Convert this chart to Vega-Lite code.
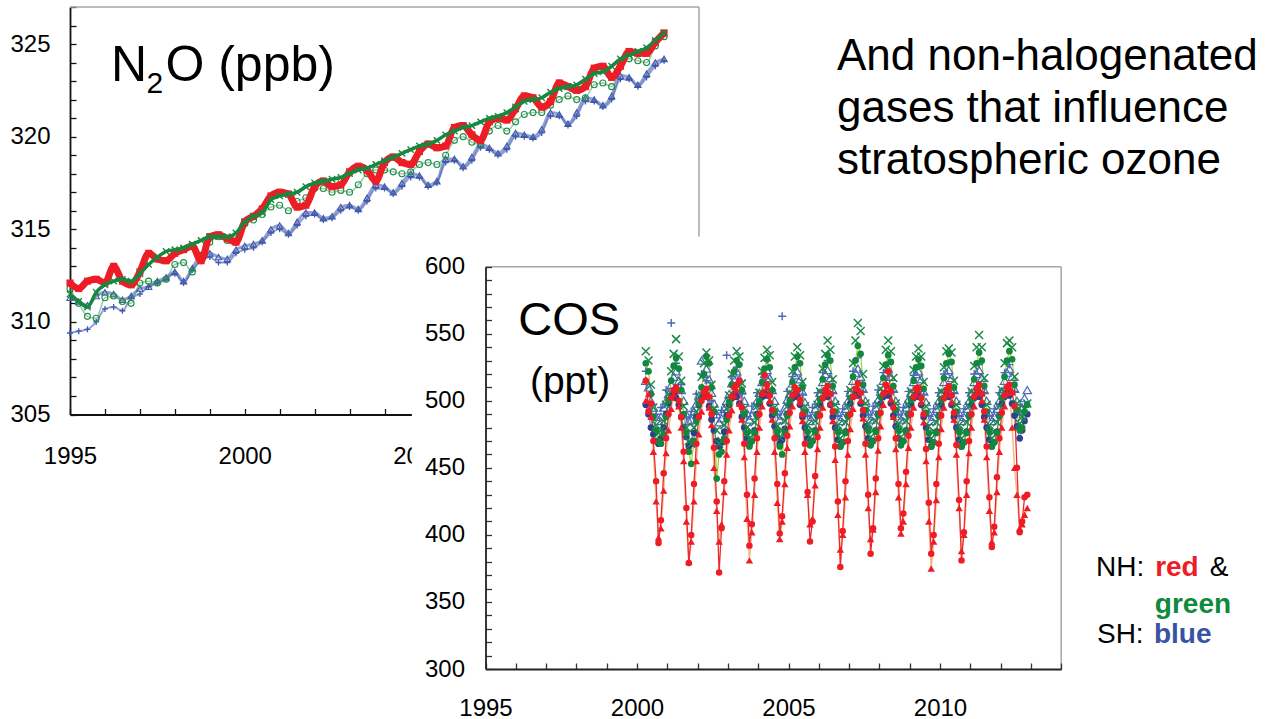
{
"$schema":"https://vega.github.io/schema/vega-lite/v6.json",
"width":1270,"height":719,"autosize":"none","padding":0,"background":"white",
"config":{"font":"Liberation Sans","view":{"stroke":null}},
"datasets":{
"n2o":[
{"t":1995.00,"r":312.1,"x":311.5,"o":311.8,"b":311.3,"p":309.4},
{"t":1995.25,"r":311.8,"x":311.1,"o":311.0,"b":311.1,"p":309.5},
{"t":1995.50,"r":312.2,"x":310.8,"o":310.3,"b":310.9,"p":309.6},
{"t":1995.75,"r":312.3,"x":311.6,"o":310.2,"b":311.4,"p":310.0},
{"t":1996.00,"r":312.1,"x":312.0,"o":311.3,"b":311.6,"p":310.7},
{"t":1996.25,"r":313.0,"x":312.2,"o":311.4,"b":311.5,"p":310.8},
{"t":1996.50,"r":312.2,"x":312.3,"o":311.1,"b":311.2,"p":310.6},
{"t":1996.75,"r":312.0,"x":312.2,"o":311.0,"b":311.4,"p":311.3},
{"t":1997.00,"r":312.7,"x":312.6,"o":312.1,"b":311.8,"p":311.5},
{"t":1997.25,"r":313.7,"x":313.1,"o":312.2,"b":311.9,"p":311.9},
{"t":1997.50,"r":313.4,"x":313.5,"o":312.1,"b":312.2,"p":312.1},
{"t":1997.75,"r":313.3,"x":313.8,"o":312.3,"b":312.4,"p":312.3},
{"t":1998.00,"r":313.7,"x":313.9,"o":313.1,"b":312.7,"p":312.6},
{"t":1998.25,"r":313.9,"x":314.0,"o":313.2,"b":312.2,"p":312.1},
{"t":1998.50,"r":314.1,"x":314.2,"o":312.7,"b":312.9,"p":312.8},
{"t":1998.75,"r":313.3,"x":314.4,"o":313.6,"b":313.6,"p":313.3},
{"t":1999.00,"r":314.6,"x":314.6,"o":314.3,"b":313.7,"p":313.5},
{"t":1999.25,"r":314.7,"x":314.6,"o":314.6,"b":313.5,"p":313.2},
{"t":1999.50,"r":314.5,"x":314.6,"o":314.4,"b":313.4,"p":313.2},
{"t":1999.75,"r":314.3,"x":314.8,"o":314.6,"b":313.9,"p":313.7},
{"t":2000.00,"r":315.4,"x":315.4,"o":315.3,"b":314.1,"p":313.9},
{"t":2000.25,"r":315.7,"x":315.7,"o":315.5,"b":314.2,"p":314.0},
{"t":2000.50,"r":316.1,"x":315.9,"o":315.8,"b":314.4,"p":314.3},
{"t":2000.75,"r":316.8,"x":316.6,"o":316.2,"b":315.0,"p":314.8},
{"t":2001.00,"r":317.0,"x":316.8,"o":316.3,"b":315.2,"p":315.0},
{"t":2001.25,"r":316.9,"x":316.9,"o":316.0,"b":314.8,"p":314.7},
{"t":2001.50,"r":316.2,"x":317.0,"o":316.5,"b":315.4,"p":315.2},
{"t":2001.75,"r":316.3,"x":317.3,"o":316.7,"b":315.9,"p":315.7},
{"t":2002.00,"r":317.3,"x":317.5,"o":317.2,"b":315.9,"p":315.8},
{"t":2002.25,"r":317.6,"x":317.6,"o":317.2,"b":315.6,"p":315.5},
{"t":2002.50,"r":317.3,"x":317.7,"o":317.0,"b":315.7,"p":315.6},
{"t":2002.75,"r":317.4,"x":317.8,"o":317.1,"b":316.2,"p":316.0},
{"t":2003.00,"r":318.1,"x":318.0,"o":317.0,"b":316.3,"p":316.2},
{"t":2003.25,"r":318.4,"x":318.2,"o":317.4,"b":316.1,"p":316.0},
{"t":2003.50,"r":318.2,"x":318.3,"o":318.0,"b":316.7,"p":316.5},
{"t":2003.75,"r":317.6,"x":318.5,"o":318.2,"b":317.4,"p":317.2},
{"t":2004.00,"r":318.6,"x":318.7,"o":318.2,"b":317.3,"p":317.2},
{"t":2004.25,"r":318.9,"x":318.9,"o":318.1,"b":317.0,"p":316.9},
{"t":2004.50,"r":318.6,"x":319.1,"o":318.0,"b":317.5,"p":317.3},
{"t":2004.75,"r":318.5,"x":319.3,"o":318.1,"b":318.0,"p":317.8},
{"t":2005.00,"r":319.2,"x":319.5,"o":318.5,"b":317.9,"p":317.8},
{"t":2005.25,"r":319.6,"x":319.6,"o":318.6,"b":317.4,"p":317.3},
{"t":2005.50,"r":319.4,"x":319.8,"o":318.5,"b":317.6,"p":317.5},
{"t":2005.75,"r":319.5,"x":320.1,"o":319.0,"b":318.8,"p":318.6},
{"t":2006.00,"r":320.5,"x":320.3,"o":319.8,"b":318.8,"p":318.7},
{"t":2006.25,"r":320.6,"x":320.5,"o":320.0,"b":318.4,"p":318.3},
{"t":2006.50,"r":320.1,"x":320.6,"o":319.7,"b":318.9,"p":318.7},
{"t":2006.75,"r":319.8,"x":320.8,"o":319.6,"b":319.6,"p":319.4},
{"t":2007.00,"r":320.8,"x":321.0,"o":320.3,"b":319.4,"p":319.3},
{"t":2007.25,"r":321.0,"x":321.1,"o":320.6,"b":319.1,"p":319.0},
{"t":2007.50,"r":320.9,"x":321.3,"o":320.3,"b":319.5,"p":319.3},
{"t":2007.75,"r":321.5,"x":321.6,"o":320.8,"b":320.2,"p":320.0},
{"t":2008.00,"r":322.2,"x":321.9,"o":321.2,"b":320.1,"p":320.0},
{"t":2008.25,"r":322.1,"x":322.0,"o":321.3,"b":320.0,"p":319.9},
{"t":2008.50,"r":321.6,"x":322.1,"o":321.3,"b":320.4,"p":320.2},
{"t":2008.75,"r":321.9,"x":322.4,"o":321.7,"b":321.3,"p":321.1},
{"t":2009.00,"r":322.9,"x":322.6,"o":322.0,"b":321.2,"p":321.1},
{"t":2009.25,"r":322.7,"x":322.7,"o":322.2,"b":320.7,"p":320.6},
{"t":2009.50,"r":322.5,"x":322.8,"o":322.0,"b":321.3,"p":321.1},
{"t":2009.75,"r":322.7,"x":323.1,"o":322.1,"b":322.1,"p":321.9},
{"t":2010.00,"r":323.7,"x":323.4,"o":322.8,"b":322.0,"p":321.9},
{"t":2010.25,"r":323.8,"x":323.5,"o":322.9,"b":321.7,"p":321.6},
{"t":2010.50,"r":323.2,"x":323.8,"o":322.7,"b":322.2,"p":322.0},
{"t":2010.75,"r":323.8,"x":324.2,"o":323.8,"b":323.3,"p":323.1},
{"t":2011.00,"r":324.6,"x":324.4,"o":324.2,"b":323.2,"p":323.1},
{"t":2011.25,"r":324.5,"x":324.6,"o":324.1,"b":322.8,"p":322.7},
{"t":2011.50,"r":324.5,"x":324.8,"o":324.0,"b":323.4,"p":323.2},
{"t":2011.75,"r":325.1,"x":325.2,"o":324.9,"b":324.0,"p":323.8},
{"t":2012.00,"r":325.6,"x":325.6,"o":325.4,"b":324.2,"p":324.1}
],
"cos":[
{"t":2000.29,"a":515,"b":500,"c":528,"d":537,"e":497,"f":515,"g":522},
{"t":2000.38,"a":492,"b":505,"c":522,"d":530,"e":490,"f":510},
{"t":2000.46,"a":498,"b":488,"c":505,"d":512,"e":480,"f":500,"g":505},
{"t":2000.54,"a":470,"b":462,"c":488,"d":495,"e":475,"f":495},
{"t":2000.63,"a":440,"b":425,"c":478,"d":482,"e":470,"f":488,"g":490},
{"t":2000.71,"a":394,"b":398,"c":470,"d":476,"e":468,"f":485},
{"t":2000.79,"a":411,"b":405,"c":468,"d":478,"e":472,"f":488,"g":495},
{"t":2000.88,"a":446,"b":433,"c":475,"d":485,"e":480,"f":495},
{"t":2000.96,"a":472,"b":461,"c":488,"d":497,"e":490,"f":500,"g":508},
{"t":2001.04,"a":490,"b":478,"c":500,"d":505,"e":498,"f":505},
{"t":2001.13,"a":502,"b":494,"c":515,"d":522,"e":503,"f":512,"g":558},
{"t":2001.21,"a":508,"b":505,"c":526,"d":535,"e":505,"f":518},
{"t":2001.29,"a":510,"b":508,"c":532,"d":546,"e":502,"f":522,"g":528},
{"t":2001.38,"a":500,"b":496,"c":524,"d":533,"e":497,"f":515},
{"t":2001.46,"a":488,"b":480,"c":508,"d":515,"e":488,"f":508,"g":512},
{"t":2001.54,"a":462,"b":455,"c":490,"d":496,"e":480,"f":500},
{"t":2001.63,"a":420,"b":410,"c":476,"d":480,"e":473,"f":490,"g":488},
{"t":2001.71,"a":379,"b":380,"c":462,"d":470,"e":466,"f":485},
{"t":2001.79,"a":400,"b":395,"c":453,"d":468,"e":468,"f":486,"g":492},
{"t":2001.88,"a":438,"b":425,"c":470,"d":480,"e":476,"f":492},
{"t":2001.96,"a":468,"b":455,"c":485,"d":492,"e":488,"f":498,"g":505},
{"t":2002.04,"a":488,"b":475,"c":498,"d":503,"e":497,"f":504},
{"t":2002.13,"a":500,"b":492,"c":510,"d":518,"e":502,"f":530,"g":520},
{"t":2002.21,"a":506,"b":503,"c":520,"d":528,"e":506,"f":520},
{"t":2002.29,"a":509,"b":507,"c":533,"d":536,"e":503,"f":524,"g":515},
{"t":2002.38,"a":503,"b":495,"c":528,"d":530,"e":496,"f":516},
{"t":2002.46,"a":490,"b":482,"c":510,"d":512,"e":486,"f":506,"g":500},
{"t":2002.54,"a":465,"b":450,"c":492,"d":494,"e":478,"f":498},
{"t":2002.63,"a":425,"b":418,"c":442,"d":478,"e":470,"f":490,"g":490},
{"t":2002.71,"a":372,"b":395,"c":460,"d":468,"e":466,"f":484},
{"t":2002.79,"a":405,"b":408,"c":462,"d":470,"e":469,"f":487,"g":493},
{"t":2002.88,"a":440,"b":432,"c":472,"d":482,"e":477,"f":494},
{"t":2002.96,"a":470,"b":460,"c":486,"d":494,"e":489,"f":500,"g":534},
{"t":2003.04,"a":489,"b":478,"c":499,"d":504,"e":497,"f":505},
{"t":2003.13,"a":503,"b":493,"c":512,"d":520,"e":502,"f":513,"g":518},
{"t":2003.21,"a":510,"b":504,"c":522,"d":530,"e":505,"f":519},
{"t":2003.29,"a":512,"b":508,"c":530,"d":537,"e":503,"f":522,"g":525},
{"t":2003.38,"a":515,"b":498,"c":527,"d":533,"e":498,"f":516},
{"t":2003.46,"a":495,"b":486,"c":508,"d":513,"e":488,"f":508,"g":505},
{"t":2003.54,"a":468,"b":458,"c":490,"d":494,"e":480,"f":500},
{"t":2003.63,"a":430,"b":412,"c":476,"d":480,"e":472,"f":491,"g":488},
{"t":2003.71,"a":392,"b":381,"c":466,"d":472,"e":467,"f":486},
{"t":2003.79,"a":408,"b":402,"c":470,"d":477,"e":470,"f":489,"g":496},
{"t":2003.88,"a":442,"b":430,"c":476,"d":484,"e":478,"f":494},
{"t":2003.96,"a":472,"b":462,"c":489,"d":496,"e":490,"f":500,"g":506},
{"t":2004.04,"a":490,"b":480,"c":500,"d":506,"e":498,"f":506},
{"t":2004.13,"a":505,"b":496,"c":514,"d":522,"e":503,"f":514,"g":520},
{"t":2004.21,"a":519,"b":506,"c":524,"d":532,"e":506,"f":520},
{"t":2004.29,"a":512,"b":510,"c":531,"d":538,"e":504,"f":523,"g":530},
{"t":2004.38,"a":504,"b":500,"c":525,"d":534,"e":498,"f":517},
{"t":2004.46,"a":493,"b":486,"c":508,"d":514,"e":489,"f":508,"g":508},
{"t":2004.54,"a":472,"b":462,"c":491,"d":495,"e":481,"f":500},
{"t":2004.63,"a":438,"b":424,"c":477,"d":481,"e":473,"f":492,"g":490},
{"t":2004.71,"a":401,"b":397,"c":466,"d":473,"e":468,"f":486},
{"t":2004.79,"a":414,"b":410,"c":460,"d":478,"e":471,"f":489,"g":563},
{"t":2004.88,"a":446,"b":438,"c":476,"d":485,"e":479,"f":495},
{"t":2004.96,"a":474,"b":465,"c":489,"d":496,"e":490,"f":501,"g":507},
{"t":2005.04,"a":491,"b":481,"c":500,"d":506,"e":497,"f":505},
{"t":2005.13,"a":504,"b":496,"c":514,"d":522,"e":502,"f":513,"g":518},
{"t":2005.21,"a":510,"b":506,"c":525,"d":533,"e":505,"f":519},
{"t":2005.29,"a":508,"b":509,"c":533,"d":540,"e":503,"f":522,"g":527},
{"t":2005.38,"a":501,"b":499,"c":528,"d":534,"e":497,"f":516},
{"t":2005.46,"a":490,"b":485,"c":510,"d":514,"e":488,"f":507,"g":505},
{"t":2005.54,"a":468,"b":462,"c":492,"d":496,"e":480,"f":499},
{"t":2005.63,"a":432,"b":430,"c":477,"d":482,"e":472,"f":491,"g":489},
{"t":2005.71,"a":395,"b":408,"c":467,"d":473,"e":467,"f":485},
{"t":2005.79,"a":410,"b":412,"c":470,"d":478,"e":470,"f":488,"g":495},
{"t":2005.88,"a":444,"b":437,"c":477,"d":485,"e":478,"f":494},
{"t":2005.96,"a":473,"b":464,"c":490,"d":497,"e":489,"f":500,"g":506},
{"t":2006.04,"a":489,"b":480,"c":501,"d":507,"e":497,"f":506},
{"t":2006.13,"a":502,"b":495,"c":516,"d":524,"e":502,"f":514,"g":521},
{"t":2006.21,"a":508,"b":505,"c":527,"d":535,"e":505,"f":520},
{"t":2006.29,"a":511,"b":508,"c":534,"d":545,"e":503,"f":523,"g":530},
{"t":2006.38,"a":505,"b":498,"c":530,"d":538,"e":497,"f":517},
{"t":2006.46,"a":492,"b":485,"c":511,"d":516,"e":488,"f":508,"g":506},
{"t":2006.54,"a":466,"b":456,"c":492,"d":497,"e":480,"f":500},
{"t":2006.63,"a":425,"b":415,"c":477,"d":482,"e":471,"f":491,"g":489},
{"t":2006.71,"a":376,"b":389,"c":466,"d":472,"e":466,"f":485},
{"t":2006.79,"a":403,"b":400,"c":469,"d":477,"e":469,"f":488,"g":494},
{"t":2006.88,"a":440,"b":428,"c":476,"d":484,"e":477,"f":494},
{"t":2006.96,"a":470,"b":460,"c":489,"d":496,"e":489,"f":500,"g":507},
{"t":2007.04,"a":490,"b":479,"c":502,"d":508,"e":498,"f":506},
{"t":2007.13,"a":503,"b":494,"c":518,"d":528,"e":503,"f":515,"g":522},
{"t":2007.21,"a":509,"b":504,"c":530,"d":545,"e":506,"f":521},
{"t":2007.29,"a":513,"b":509,"c":541,"d":558,"e":504,"f":524,"g":532},
{"t":2007.38,"a":506,"b":500,"c":535,"d":552,"e":498,"f":518},
{"t":2007.46,"a":493,"b":487,"c":512,"d":520,"e":489,"f":509,"g":507},
{"t":2007.54,"a":468,"b":460,"c":493,"d":498,"e":481,"f":500},
{"t":2007.63,"a":430,"b":420,"c":478,"d":483,"e":472,"f":492,"g":490},
{"t":2007.71,"a":386,"b":397,"c":467,"d":473,"e":467,"f":486},
{"t":2007.79,"a":405,"b":404,"c":470,"d":478,"e":470,"f":489,"g":496},
{"t":2007.88,"a":442,"b":432,"c":477,"d":485,"e":478,"f":495},
{"t":2007.96,"a":472,"b":463,"c":490,"d":497,"e":490,"f":501,"g":508},
{"t":2008.04,"a":491,"b":481,"c":503,"d":509,"e":498,"f":507},
{"t":2008.13,"a":505,"b":497,"c":517,"d":526,"e":503,"f":515,"g":521},
{"t":2008.21,"a":512,"b":507,"c":527,"d":538,"e":506,"f":521},
{"t":2008.29,"a":522,"b":511,"c":534,"d":545,"e":504,"f":524,"g":528},
{"t":2008.38,"a":507,"b":501,"c":529,"d":537,"e":498,"f":518},
{"t":2008.46,"a":495,"b":488,"c":511,"d":517,"e":489,"f":509,"g":507},
{"t":2008.54,"a":472,"b":464,"c":493,"d":498,"e":481,"f":500},
{"t":2008.63,"a":438,"b":428,"c":478,"d":483,"e":472,"f":492,"g":490},
{"t":2008.71,"a":405,"b":401,"c":467,"d":473,"e":467,"f":486},
{"t":2008.79,"a":416,"b":410,"c":470,"d":478,"e":470,"f":489,"g":495},
{"t":2008.88,"a":447,"b":438,"c":477,"d":485,"e":478,"f":495},
{"t":2008.96,"a":474,"b":465,"c":490,"d":497,"e":490,"f":501,"g":507},
{"t":2009.04,"a":490,"b":480,"c":501,"d":507,"e":497,"f":506},
{"t":2009.13,"a":503,"b":495,"c":515,"d":523,"e":502,"f":514,"g":519},
{"t":2009.21,"a":509,"b":505,"c":525,"d":533,"e":505,"f":520},
{"t":2009.29,"a":510,"b":508,"c":531,"d":539,"e":503,"f":522,"g":526},
{"t":2009.38,"a":502,"b":499,"c":526,"d":533,"e":497,"f":516},
{"t":2009.46,"a":490,"b":484,"c":509,"d":514,"e":488,"f":507,"g":505},
{"t":2009.54,"a":464,"b":455,"c":491,"d":496,"e":480,"f":499},
{"t":2009.63,"a":424,"b":410,"c":476,"d":481,"e":471,"f":491,"g":489},
{"t":2009.71,"a":386,"b":375,"c":466,"d":472,"e":466,"f":485},
{"t":2009.79,"a":400,"b":395,"c":469,"d":477,"e":469,"f":488,"g":494},
{"t":2009.88,"a":438,"b":426,"c":476,"d":484,"e":477,"f":494},
{"t":2009.96,"a":468,"b":458,"c":489,"d":496,"e":489,"f":500,"g":506},
{"t":2010.04,"a":489,"b":479,"c":501,"d":507,"e":497,"f":506},
{"t":2010.13,"a":502,"b":495,"c":517,"d":525,"e":502,"f":514,"g":520},
{"t":2010.21,"a":508,"b":505,"c":528,"d":537,"e":505,"f":520},
{"t":2010.29,"a":511,"b":509,"c":535,"d":539,"e":503,"f":523,"g":528},
{"t":2010.38,"a":504,"b":499,"c":529,"d":536,"e":497,"f":517},
{"t":2010.46,"a":491,"b":486,"c":510,"d":515,"e":488,"f":508,"g":506},
{"t":2010.54,"a":467,"b":460,"c":492,"d":497,"e":480,"f":500},
{"t":2010.63,"a":426,"b":420,"c":477,"d":482,"e":471,"f":491,"g":489},
{"t":2010.71,"a":381,"b":388,"c":466,"d":472,"e":466,"f":485},
{"t":2010.79,"a":402,"b":400,"c":469,"d":477,"e":469,"f":488,"g":494},
{"t":2010.88,"a":440,"b":430,"c":476,"d":484,"e":477,"f":494},
{"t":2010.96,"a":470,"b":461,"c":489,"d":496,"e":489,"f":500,"g":506},
{"t":2011.04,"a":490,"b":480,"c":501,"d":507,"e":497,"f":506},
{"t":2011.13,"a":503,"b":496,"c":516,"d":526,"e":502,"f":514,"g":520},
{"t":2011.21,"a":509,"b":506,"c":528,"d":540,"e":505,"f":520},
{"t":2011.29,"a":512,"b":509,"c":536,"d":549,"e":503,"f":523,"g":527},
{"t":2011.38,"a":505,"b":500,"c":530,"d":540,"e":497,"f":517},
{"t":2011.46,"a":492,"b":486,"c":511,"d":517,"e":488,"f":508,"g":506},
{"t":2011.54,"a":466,"b":458,"c":492,"d":497,"e":480,"f":500},
{"t":2011.63,"a":428,"b":418,"c":477,"d":482,"e":471,"f":491,"g":489},
{"t":2011.71,"a":391,"b":395,"c":466,"d":472,"e":466,"f":485},
{"t":2011.79,"a":406,"b":402,"c":469,"d":477,"e":469,"f":488,"g":494},
{"t":2011.88,"a":443,"b":432,"c":476,"d":484,"e":477,"f":494},
{"t":2011.96,"a":472,"b":462,"c":489,"d":496,"e":489,"f":500,"g":506},
{"t":2012.04,"a":491,"b":480,"c":502,"d":508,"e":498,"f":507},
{"t":2012.13,"a":504,"b":496,"c":518,"d":528,"e":503,"f":515,"g":521},
{"t":2012.21,"a":510,"b":506,"c":530,"d":543,"e":506,"f":521},
{"t":2012.29,"a":512,"b":510,"c":537,"d":545,"e":504,"f":524,"g":527},
{"t":2012.38,"a":506,"b":480,"c":531,"d":540,"e":498,"f":518},
{"t":2012.46,"a":496,"b":450,"c":512,"d":518,"e":489,"f":509,"g":507},
{"t":2012.54,"a":450,"b":430,"c":493,"d":498,"e":481,"f":500},
{"t":2012.63,"a":402,"b":405,"c":478,"d":483,"e":472,"f":492,"g":490},
{"t":2012.71,"a":410,"b":408,"c":480,"d":488,"e":478,"f":495},
{"t":2012.79,"a":428,"b":415,"c":492,"d":494,"e":485,"f":502,"g":496},
{"t":2012.88,"a":430,"b":420,"c":497,"d":498,"e":490,"f":508}
]
},
"layer":[
{
"encoding":{
"x":{"field":"t","type":"quantitative","scale":{"domain":[1995,2013],"range":[70,699],"nice":false,"zero":false},
"axis":{"orient":"bottom","offset":-304.5,"values":[1995,1996,1997,1998,1999,2000,2001,2002,2003,2004,2005,2006,2007,2008,2009,2010,2011,2012,2013],"format":"d","labelExpr":"datum.value % 5 === 0 ? datum.label : ''","tickSize":-6,"labelPadding":36,"labelFontSize":24,"labelFont":"Liberation Sans","labelColor":"#000","domainColor":"#111","tickColor":"#111","domainWidth":1.8,"tickWidth":1.3,"title":null,"grid":false,"labelFlush":false,"labelOverlap":false,"labelBound":false,"zindex":0}},
"y":{"field":"v","type":"quantitative","scale":{"domain":[305,327],"range":[414.5,7],"nice":false,"zero":false},
"axis":{"orient":"left","offset":-70,"values":[305,306,307,308,309,310,311,312,313,314,315,316,317,318,319,320,321,322,323,324,325,326,327],"format":"d","labelExpr":"datum.value % 5 === 0 ? datum.label : ''","tickSize":-6,"labelPadding":26,"labelFontSize":24,"labelFont":"Liberation Sans","labelColor":"#000","domainColor":"#111","tickColor":"#111","domainWidth":1.8,"tickWidth":1.3,"title":null,"grid":false,"labelOverlap":false,"labelBound":false,"zindex":0}}
},
"layer":[
{"data":{"values":[{"t":1995,"v":327,"t2":2013,"v2":327},{"t":2013,"v":305,"t2":2013,"v2":327}]},
 "mark":{"type":"rule","color":"#a6a6a6","strokeWidth":1.5},
 "encoding":{"x2":{"field":"t2"},"y2":{"field":"v2"}}},
{"data":{"name":"n2o"},"transform":[{"fold":["p"],"as":["s","v"]}],"mark":{"type":"line","color":"#4a62b2","strokeWidth":2,"opacity":0.6,"interpolate":"monotone"},"encoding":{}},
{"data":{"name":"n2o"},"transform":[{"fold":["p"],"as":["s","v"]}],"mark":{"type":"point","shape":"M-1,0L1,0M0,-1L0,1","filled":false,"color":"#3f58aa","size":36,"strokeWidth":1.3,"opacity":1}},
{"data":{"name":"n2o"},"transform":[{"fold":["b"],"as":["s","v"]}],"mark":{"type":"line","color":"#4a62b2","strokeWidth":3,"opacity":0.6,"interpolate":"monotone"},"encoding":{}},
{"data":{"name":"n2o"},"transform":[{"fold":["b"],"as":["s","v"]}],"mark":{"type":"point","shape":"triangle-up","filled":false,"color":"#3f58aa","size":40,"strokeWidth":1.1,"opacity":1}},
{"data":{"name":"n2o"},"transform":[{"fold":["o"],"as":["s","v"]}],"mark":{"type":"line","color":"#2d9a52","strokeWidth":1.5,"opacity":0.5,"interpolate":"monotone"},"encoding":{}},
{"data":{"name":"n2o"},"transform":[{"fold":["o"],"as":["s","v"]}],"mark":{"type":"point","shape":"circle","filled":false,"color":"#1f8f45","size":36,"strokeWidth":1.1,"opacity":1}},
{"data":{"name":"n2o"},"transform":[{"fold":["r"],"as":["s","v"]}],"mark":{"type":"line","color":"#ee1c25","strokeWidth":7,"interpolate":"monotone"},"encoding":{}},
{"data":{"name":"n2o"},"transform":[{"fold":["r"],"as":["s","v"]}],"mark":{"type":"point","shape":"square","filled":true,"color":"#ee1c25","size":50,"opacity":1}},
{"data":{"name":"n2o"},"transform":[{"fold":["x"],"as":["s","v"]}],"mark":{"type":"line","color":"#17883f","strokeWidth":3.5,"interpolate":"monotone"},"encoding":{}},
{"data":{"name":"n2o"},"transform":[{"fold":["x"],"as":["s","v"]}],"mark":{"type":"point","shape":"M-1,-1L1,1M-1,1L1,-1","filled":false,"color":"#17883f","size":40,"strokeWidth":1.4,"opacity":1}},
{"data":{"values":[{"t":1996.17,"v":323.0,"txt":"N"},{"t":1997.73,"v":323.0,"txt":"O (ppb)"}]},
 "mark":{"type":"text","align":"left","baseline":"alphabetic","fontSize":50,"font":"Liberation Sans","color":"#000"},
 "encoding":{"text":{"field":"txt"}}},
{"data":{"values":[{"t":1997.19,"v":322.35,"txt":"2"}]},
 "mark":{"type":"text","align":"left","baseline":"alphabetic","fontSize":30,"font":"Liberation Sans","color":"#000"},
 "encoding":{"text":{"field":"txt"}}}
]
},
{
"encoding":{
"x":{"field":"t","type":"quantitative","scale":{"domain":[1995,2014],"range":[485.5,1061.2],"nice":false,"zero":false},
"axis":{"orient":"bottom","offset":-50,"values":[1995,1996,1997,1998,1999,2000,2001,2002,2003,2004,2005,2006,2007,2008,2009,2010,2011,2012,2013,2014],"format":"d","labelExpr":"datum.value % 5 === 0 && datum.value < 2014 ? datum.label : ''","tickSize":-6,"labelPadding":33,"labelFontSize":24,"labelFont":"Liberation Sans","labelColor":"#000","domainColor":"#222","tickColor":"#333","domainWidth":1.8,"tickWidth":1.3,"title":null,"grid":false,"labelFlush":false,"labelOverlap":false,"labelBound":false,"zindex":1}},
"y":{"field":"v","type":"quantitative","scale":{"domain":[300,600],"range":[669,266.7],"nice":false,"zero":false},
"axis":{"orient":"left","offset":-485.5,"values":[300,310,320,330,340,350,360,370,380,390,400,410,420,430,440,450,460,470,480,490,500,510,520,530,540,550,560,570,580,590,600],"format":"d","labelExpr":"datum.value % 50 === 0 ? datum.label : ''","tickSize":-6,"labelPadding":27,"labelFontSize":24,"labelFont":"Liberation Sans","labelColor":"#000","domainColor":"#222","tickColor":"#333","domainWidth":1.8,"tickWidth":1.3,"title":null,"grid":false,"labelOverlap":false,"labelBound":false,"zindex":1}}
},
"layer":[
{"data":{"values":[{"t":1992.57,"v":622.5,"t2":2016,"v2":255}]},
 "mark":{"type":"rect","fill":"white","stroke":null},
 "encoding":{"x2":{"field":"t2"},"y2":{"field":"v2"}}},
{"data":{"values":[{"t":1995,"v":600,"t2":2014,"v2":600},{"t":2014,"v":300,"t2":2014,"v2":600}]},
 "mark":{"type":"rule","color":"#a6a6a6","strokeWidth":1.5},
 "encoding":{"x2":{"field":"t2"},"y2":{"field":"v2"}}},
{"data":{"name":"cos"},"transform":[{"fold":["b"],"as":["s","v"]}],"mark":{"type":"line","color":"#f7b98a","strokeWidth":1.5},"encoding":{}},
{"data":{"name":"cos"},"transform":[{"fold":["a"],"as":["s","v"]}],"mark":{"type":"line","color":"#ec2a2e","strokeWidth":1.3},"encoding":{}},
{"data":{"name":"cos"},"transform":[{"fold":["c"],"as":["s","v"]}],"mark":{"type":"line","color":"#a3cf3a","strokeWidth":1.2},"encoding":{}},
{"data":{"name":"cos"},"transform":[{"fold":["e"],"as":["s","v"]}],"mark":{"type":"line","color":"#4457a8","strokeWidth":1,"opacity":0.8},"encoding":{}},
{"data":{"name":"cos"},"transform":[{"fold":["f"],"as":["s","v"]}],"mark":{"type":"point","shape":"triangle-up","filled":false,"color":"#4b66bb","size":70,"strokeWidth":1.2,"opacity":1}},
{"data":{"name":"cos"},"transform":[{"fold":["g"],"as":["s","v"]}],"mark":{"type":"point","shape":"M-1,0L1,0M0,-1L0,1","filled":false,"color":"#4b66bb","size":64,"strokeWidth":1.4,"opacity":1}},
{"data":{"name":"cos"},"transform":[{"fold":["e"],"as":["s","v"]}],"mark":{"type":"point","shape":"circle","filled":true,"color":"#2d3f8e","size":45,"opacity":1}},
{"data":{"name":"cos"},"transform":[{"fold":["d"],"as":["s","v"]}],"mark":{"type":"point","shape":"M-1,-1L1,1M-1,1L1,-1","filled":false,"color":"#1a8a45","size":64,"strokeWidth":1.5,"opacity":1}},
{"data":{"name":"cos"},"transform":[{"fold":["c"],"as":["s","v"]}],"mark":{"type":"point","shape":"circle","filled":true,"color":"#12883f","size":45,"opacity":1}},
{"data":{"name":"cos"},"transform":[{"fold":["b"],"as":["s","v"]}],"mark":{"type":"point","shape":"triangle-up","filled":true,"color":"#ee1c25","size":55,"opacity":1}},
{"data":{"name":"cos"},"transform":[{"fold":["a"],"as":["s","v"]}],"mark":{"type":"point","shape":"circle","filled":true,"color":"#ee1c25","size":42,"opacity":1}},
{"data":{"values":[{"t":1997.76,"v":549,"txt":"COS"}]},
 "mark":{"type":"text","align":"center","baseline":"alphabetic","fontSize":47,"font":"Liberation Sans","color":"#000"},
 "encoding":{"text":{"field":"txt"}}},
{"data":{"values":[{"t":1997.79,"v":505.4,"txt":"(ppt)"}]},
 "mark":{"type":"text","align":"center","baseline":"alphabetic","fontSize":39,"font":"Liberation Sans","color":"#000"},
 "encoding":{"text":{"field":"txt"}}},
{"data":{"values":[{"t":2006.6,"v":746.7,"txt":"And non-halogenated"},{"t":2006.6,"v":707.9,"txt":"gases that influence"},{"t":2006.6,"v":669.5,"txt":"stratospheric ozone"}]},
 "mark":{"type":"text","align":"left","baseline":"alphabetic","fontSize":44,"font":"Liberation Sans","color":"#000"},
 "encoding":{"text":{"field":"txt"}}},
{"data":{"values":[{"t":2015.15,"v":369.4,"txt":"NH:"},{"t":2018.9,"v":369.4,"txt":"&"},{"t":2015.18,"v":319.2,"txt":"SH:"}]},
 "mark":{"type":"text","align":"left","baseline":"alphabetic","fontSize":28,"font":"Liberation Sans","color":"#000"},
 "encoding":{"text":{"field":"txt"}}},
{"data":{"values":[{"t":2017.1,"v":369.4,"txt":"red","k":"red"},{"t":2017.09,"v":341.6,"txt":"green","k":"green"},{"t":2017.06,"v":319.2,"txt":"blue","k":"blue"}]},
 "mark":{"type":"text","align":"left","baseline":"alphabetic","fontSize":28,"fontWeight":"bold","font":"Liberation Sans"},
 "encoding":{"text":{"field":"txt"},"color":{"field":"k","type":"nominal","scale":{"domain":["red","green","blue"],"range":["#ee1c25","#0f8a3c","#3953a4"]},"legend":null}}}
]
}
],
"resolve":{"scale":{"x":"independent","y":"independent"},"axis":{"x":"independent","y":"independent"}}
}
